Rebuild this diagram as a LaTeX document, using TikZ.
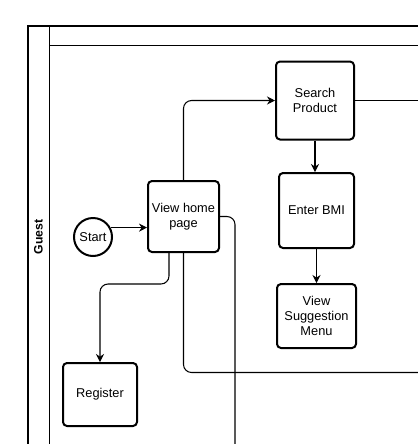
\documentclass[tikz,border=0pt]{standalone}
\usepackage{fontspec}
\setmainfont{Liberation Sans}
\usetikzlibrary{arrows.meta,calc}
\begin{document}
\begin{tikzpicture}[x=0.75pt,y=-0.75pt,
  txt/.style={font=\fontsize{9.6}{11.1}\selectfont, align=center},
  box/.style={txt, draw, line width=1.5pt, rounded corners=3pt, inner sep=0pt},
  startnode/.style={txt, draw, circle, line width=1.5pt, inner sep=0pt, minimum size=28.5pt},
  pool/.style={draw, line width=1pt},
  link/.style={draw, line width=0.8pt, rounded corners=6pt},
  flow/.style={link, -{Stealth[length=6pt,width=6pt,inset=2pt]}}]
\useasboundingbox (0,0) rectangle (418,444);
\clip (0,0) rectangle (418,444);

% pool and lane
\draw[pool] (28,444) -- (28,26) -- (418,26);
\draw[pool] (49.5,444) -- (49.5,26);
\draw[pool] (49.5,45.5) -- (418,45.5);
\node[font=\fontsize{9.2}{11}\selectfont\bfseries, rotate=90] (guest) at (38.5,237) {Guest};

% nodes
\node[startnode] (start) at (93,237) {Start};
\node[box, minimum width=53.25pt, minimum height=53.25pt] (vhp) at (183.5,216.5) {View home\\page};
\node[box, minimum width=58.5pt, minimum height=58.5pt] (search) at (315,100.5) {Search\\Product};
\node[box, minimum width=56.25pt, minimum height=56.25pt] (bmi) at (316.5,210.5) {Enter BMI};
\node[box, minimum width=59.25pt, minimum height=48pt] (menu) at (316.5,316) {View\\Suggestion\\Menu};
\node[box, minimum width=55.5pt, minimum height=47.25pt] (register) at (100,394.5) {Register};

% free ends and bends
\coordinate (e1) at (418,100.5);
\coordinate (e2) at (418,372.5);
\coordinate (e3) at (235,444);
\coordinate (vb) at ($(vhp.south)+(-14.5,0)$);
\coordinate (turn) at (100,284);

% connectors
\draw[flow] (start.28) -- (start.28 -| vhp.west);
\draw[flow] (vhp.north) |- (search.west);
\draw[link] (search.east) -- (e1);
\draw[flow] (search.south) -- (search.south |- bmi.north);
\draw[flow] (bmi.south) -- (bmi.south |- menu.north);
\draw[flow] (vb) -- (vb |- turn) -| (register.north);
\draw[link] (vhp.south) |- (e2);
\draw[link] (vhp.east) -| (e3);
\end{tikzpicture}
\end{document}
